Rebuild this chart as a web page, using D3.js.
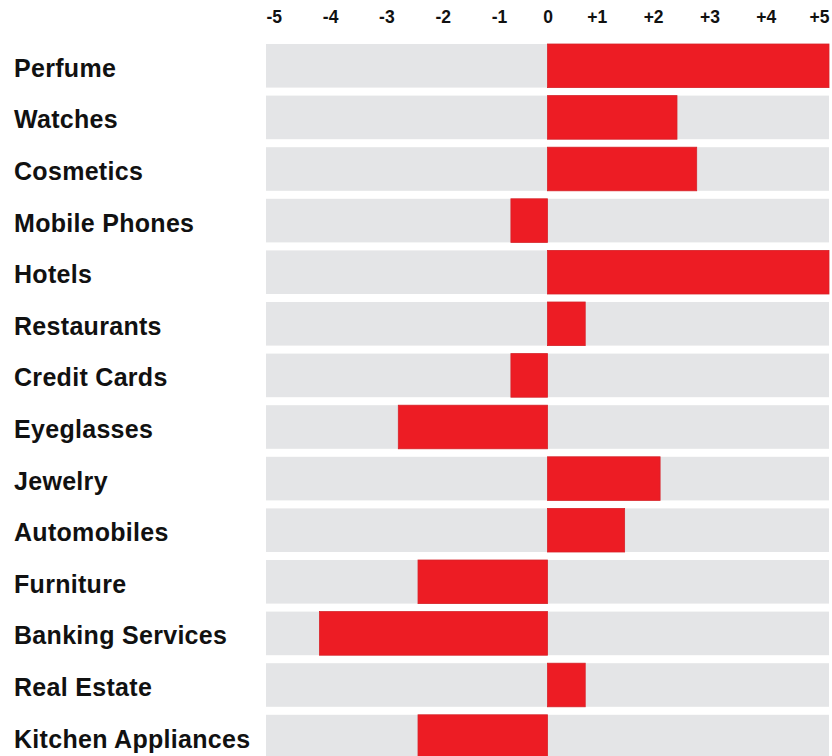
<!DOCTYPE html>
<html>
<head>
<meta charset="utf-8">
<script src="https://cdn.jsdelivr.net/npm/d3@7"></script>
<style>
  html, body { margin: 0; padding: 0; background: #ffffff; }
  svg { display: block; font-family: "Liberation Sans", Arial, Helvetica, sans-serif; }
</style>
</head>
<body>
<div id="chart"></div>
<script>
// Categories, top to bottom
const categories = [
  "Perfume", "Watches", "Cosmetics", "Mobile Phones", "Hotels", "Restaurants",
  "Credit Cards", "Eyeglasses", "Jewelry", "Automobiles", "Furniture",
  "Banking Services", "Real Estate", "Kitchen Appliances"
];
// Score on the -5 … +5 scale
const values = [5, 2.3, 2.65, -0.65, 5, 0.67, -0.65, -2.65, 2.0, 1.37, -2.3, -4.05, 0.67, -2.3];
// Axis tick values and their labels
const tickValues = [-5, -4, -3, -2, -1, 0, 1, 2, 3, 4, 5];
const tickLabels = ["-5", "-4", "-3", "-2", "-1", "0", "+1", "+2", "+3", "+4", "+5"];

const W = 832, H = 756;
const svg = d3.select("#chart").append("svg")
  .attr("width", W).attr("height", H);

const x = d3.scaleLinear().domain([-5, 5]).range([266, 829]);
const step = 51.6;
const pad = 0.155;
const y = d3.scaleBand()
  .domain(categories)
  .range([44, 44 + (categories.length - pad) * step])
  .paddingInner(pad)
  .paddingOuter(0);

// Grey track behind each row
svg.append("g").selectAll("rect")
  .data(categories)
  .join("rect")
  .attr("x", x(-5))
  .attr("width", x(5) - x(-5))
  .attr("y", d => y(d))
  .attr("height", y.bandwidth())
  .attr("fill", "#e4e5e7");

// Red value bars from zero
const data = categories.map((c, i) => ({ c, v: values[i] }));
svg.append("g").selectAll("rect")
  .data(data)
  .join("rect")
  .attr("x", d => Math.min(x(0), x(d.v)))
  .attr("width", d => Math.abs(x(d.v) - x(0)))
  .attr("y", d => y(d.c))
  .attr("height", y.bandwidth())
  .attr("fill", "#ed1c24")
  .attr("stroke", "#d8232a")
  .attr("stroke-width", 0.8);

// Category labels
svg.append("g").selectAll("text")
  .data(categories)
  .join("text")
  .attr("x", 14)
  .attr("y", d => y(d) + y.bandwidth() / 2 + 11)
  .attr("font-size", 25)
  .attr("font-weight", "bold")
  .attr("letter-spacing", 0.3)
  .attr("fill", "#111")
  .text(d => d);

// Top axis with signed labels
const axis = d3.axisTop(x)
  .tickValues(tickValues)
  .tickFormat((d, i) => tickLabels[i])
  .tickSize(0)
  .tickPadding(7);
const gAxis = svg.append("g")
  .attr("transform", "translate(0,30)")
  .call(axis);
gAxis.select(".domain").remove();
gAxis.selectAll("text")
  .attr("font-family", "'Liberation Sans', Arial, sans-serif")
  .attr("font-size", 17.5)
  .attr("font-weight", "bold")
  .attr("fill", "#111")
  .attr("text-anchor", d => d < 0 ? "start" : d > 0 ? "end" : "middle")
  .attr("dx", d => d > 0 && d < 5 ? 3 : 0);
</script>
</body>
</html>
